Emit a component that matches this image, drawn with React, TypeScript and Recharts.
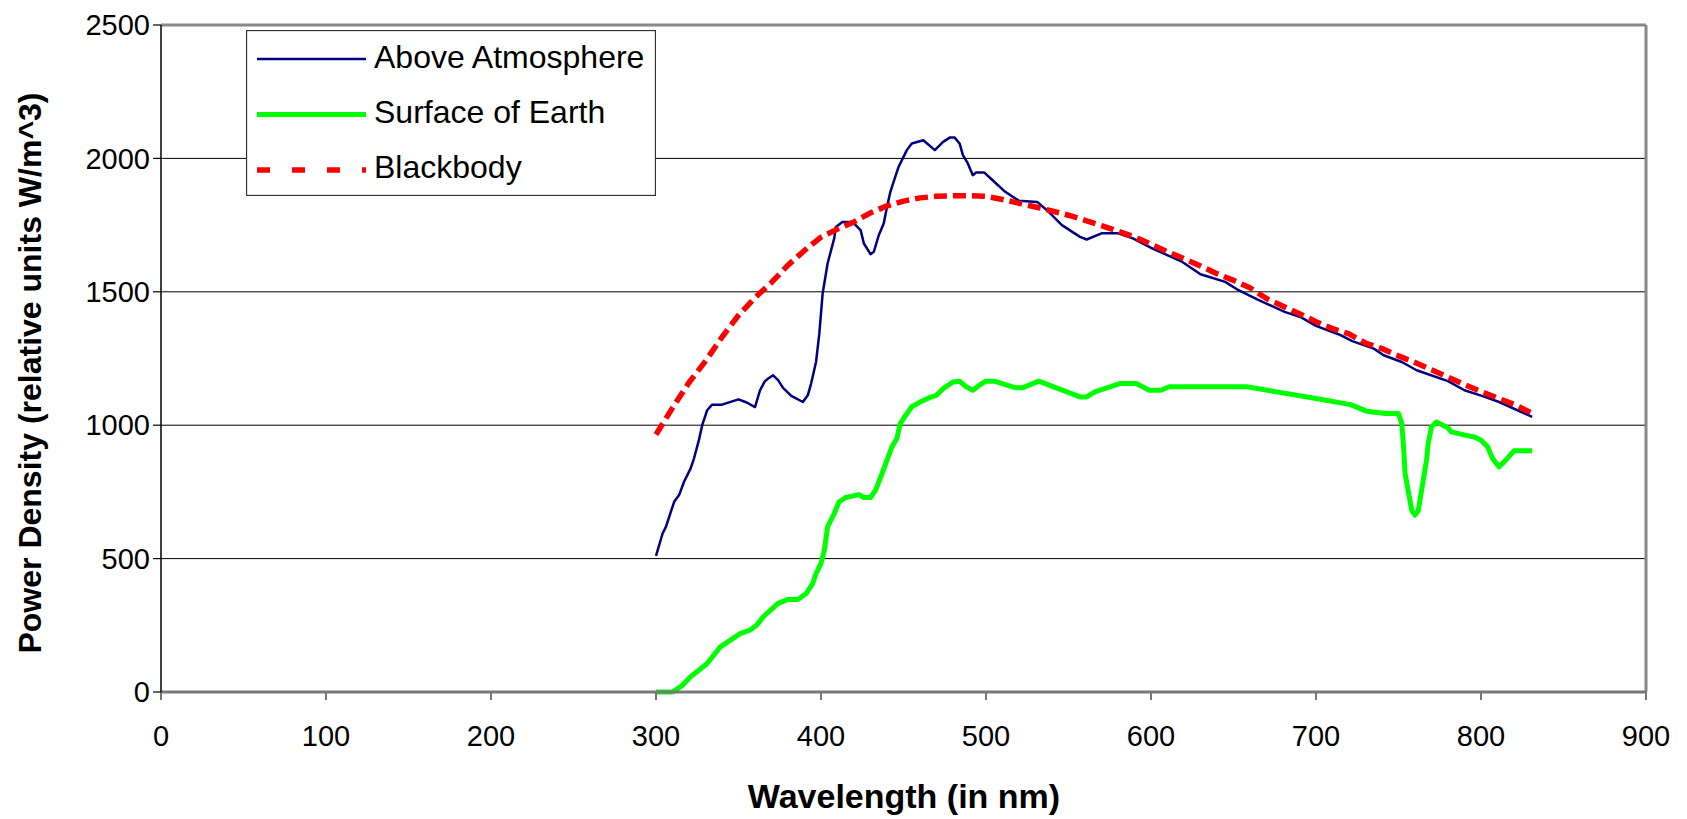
import { CartesianGrid, Label, Legend, Line, LineChart, ReferenceLine, XAxis, YAxis } from "recharts";

// Solar spectrum vs. blackbody.

const FONT = "'Liberation Sans', Arial, sans-serif";

const xTicks = [0, 100, 200, 300, 400, 500, 600, 700, 800, 900];
const yTicks = [0, 500, 1000, 1500, 2000, 2500];

const aboveNm = [
  300, 304, 306, 311, 314, 317, 321, 323, 326, 328, 331, 334, 340, 350, 355, 360, 363, 366, 368, 371,
  374, 377, 382, 389, 392, 394, 397, 399, 401, 404, 408, 409, 413, 419, 424, 426, 430, 432, 435, 438,
  440, 442, 444, 447, 452, 455, 462, 469, 474, 478, 481, 484, 486, 489, 492, 494, 499, 504, 511, 520,
  531, 538, 546, 557, 561, 570, 580, 589, 601, 619, 630, 645, 653, 665, 681, 691, 700, 714, 722, 735,
  741, 752, 761, 780, 790, 801, 811, 831,
];
const aboveVal = [
  510, 594, 619, 713, 738, 788, 838, 875, 944, 1000, 1056, 1077, 1077, 1097, 1085, 1068, 1130, 1165, 1175, 1187,
  1169, 1140, 1110, 1087, 1112, 1156, 1237, 1344, 1494, 1606, 1700, 1743, 1762, 1762, 1731, 1681, 1641, 1650, 1712, 1756,
  1818, 1874, 1912, 1968, 2031, 2056, 2068, 2031, 2062, 2078, 2078, 2056, 2012, 1981, 1937, 1947, 1947, 1918, 1878, 1841,
  1837, 1800, 1750, 1706, 1696, 1719, 1719, 1700, 1662, 1612, 1566, 1537, 1506, 1470, 1425, 1404, 1372, 1340, 1315, 1287,
  1262, 1237, 1206, 1165, 1131, 1109, 1087, 1031,
];

const surfaceNm = [
  300, 310, 316, 321, 331, 335, 339, 351, 357, 361, 365, 374, 380, 386, 391, 395, 397, 400, 402, 404,
  408, 411, 415, 423, 426, 430, 433, 437, 440, 443, 446, 448, 450, 455, 461, 466, 470, 474, 480, 484,
  488, 492, 496, 500, 505, 518, 522, 532, 545, 557, 561, 566, 581, 591, 599, 606, 611, 658, 700, 721,
  731, 742, 750, 752, 753, 754, 758, 760, 762, 767, 768, 770, 773, 780, 782, 791, 796, 800, 804, 807,
  811, 815, 820, 831,
];
const surfaceVal = [
  0, 0, 25, 57, 107, 138, 169, 219, 232, 250, 282, 332, 347, 347, 369, 407, 444, 482, 531, 619,
  669, 713, 729, 740, 729, 729, 756, 819, 869, 919, 950, 1006, 1025, 1069, 1090, 1104, 1112, 1137, 1162, 1165,
  1144, 1131, 1150, 1165, 1165, 1140, 1140, 1165, 1134, 1106, 1106, 1125, 1156, 1156, 1131, 1131, 1144, 1144, 1100, 1077,
  1052, 1044, 1044, 1006, 925, 819, 681, 663, 681, 869, 931, 994, 1012, 990, 975, 962, 956, 944, 919, 875,
  844, 869, 904, 904,
];

const blackNm = [
  300, 310, 320, 330, 340, 350, 360, 370, 380, 390, 400, 410, 420, 430, 440, 450, 460, 470, 480, 490,
  500, 510, 520, 530, 540, 550, 560, 570, 580, 590, 600, 610, 620, 630, 640, 650, 660, 670, 680, 690,
  700, 710, 720, 730, 740, 750, 760, 770, 780, 790, 800, 810, 820, 830,
];
const blackVal = [
  965, 1065, 1160, 1240, 1330, 1412, 1478, 1535, 1600, 1655, 1705, 1735, 1762, 1796, 1822, 1840, 1852, 1858, 1860, 1860,
  1858, 1846, 1832, 1818, 1803, 1787, 1768, 1748, 1727, 1706, 1678, 1650, 1624, 1597, 1568, 1543, 1515, 1475, 1446, 1418,
  1388, 1362, 1342, 1308, 1287, 1260, 1235, 1208, 1180, 1152, 1126, 1102, 1078, 1048,
];

const pts = (xs: number[], ys: number[]) => xs.map((x, i) => ({ x, y: ys[i] }));

const SERIES = [
  { name: "Above Atmosphere", data: pts(aboveNm, aboveVal), color: "#000080", width: 2.5, dash: undefined, legendDash: undefined },
  { name: "Surface of Earth", data: pts(surfaceNm, surfaceVal), color: "#00ff00", width: 5, dash: undefined, legendDash: undefined },
  { name: "Blackbody", data: pts(blackNm, blackVal), color: "#ff0000", width: 5.5, dash: "13 6", legendDash: "13 22" },
];

function LegendBox() {
  return (
    <svg width={410} height={166} style={{ display: "block" }}>
      <rect x={0.5} y={0.5} width={409} height={165} fill="#fff" stroke="#333" strokeWidth={1.3} />
      {SERIES.map((s, i) => (
        <g key={s.name}>
          <line
            x1={11}
            x2={120}
            y1={29 + i * 55.5}
            y2={29 + i * 55.5}
            stroke={s.color}
            strokeWidth={s.width}
            strokeDasharray={s.legendDash}
          />
          <text x={128} y={38 + i * 55} fontFamily={FONT} fontSize={32} fill="#000">
            {s.name}
          </text>
        </g>
      ))}
    </svg>
  );
}

export default function App() {
  return (
    <div style={{ position: "absolute", left: 0, top: 0, width: 1687, height: 819, background: "#fff" }}>
      <LineChart width={1687} height={819} margin={{ top: 25, right: 41, bottom: 0, left: 0 }}>
        <CartesianGrid horizontal vertical={false} stroke="#000" strokeWidth={1} />
        <XAxis
          type="number"
          dataKey="x"
          domain={[0, 900]}
          ticks={xTicks}
          height={127}
          tickSize={8}
          tickMargin={25}
          axisLine={{ stroke: "#777", strokeWidth: 3 }}
          tickLine={{ stroke: "#777", strokeWidth: 2 }}
          tick={{ fontSize: 29, fill: "#000", fontFamily: FONT }}
        >
          <Label
            content={() => (
              <text x={904} y={808} textAnchor="middle" fontFamily={FONT} fontSize={34} fontWeight="bold" fill="#000">
                Wavelength (in nm)
              </text>
            )}
          />
        </XAxis>
        <YAxis
          type="number"
          domain={[0, 2500]}
          ticks={yTicks}
          width={161}
          tickSize={8}
          tickMargin={3}
          axisLine={{ stroke: "#000", strokeWidth: 1.5 }}
          tickLine={{ stroke: "#000", strokeWidth: 1.2 }}
          tick={{ fontSize: 29, fill: "#000", fontFamily: FONT }}
        >
          <Label
            content={() => (
              <text
                x={41}
                y={373}
                transform="rotate(-90 41 373)"
                textAnchor="middle"
                fontFamily={FONT}
                fontSize={32}
                fontWeight="bold"
                fill="#000"
              >
                Power Density (relative units W/m^3)
              </text>
            )}
          />
        </YAxis>
        <ReferenceLine y={2500} stroke="#888" strokeWidth={3} />
        <ReferenceLine x={900} stroke="#888" strokeWidth={3} />
        {SERIES.map((s) => (
          <Line
            key={s.name}
            name={s.name}
            data={s.data}
            dataKey="y"
            type="linear"
            stroke={s.color}
            strokeWidth={s.width}
            strokeDasharray={s.dash}
            strokeLinejoin="round"
            dot={false}
            activeDot={false}
            isAnimationActive={false}
          />
        ))}
        <Legend
          layout="horizontal"
          verticalAlign="middle"
          align="center"
          content={() => <LegendBox />}
          wrapperStyle={{ position: "absolute", left: 246, top: 30, width: 410, height: 166, margin: 0, padding: 0 }}
        />
      </LineChart>
    </div>
  );
}
